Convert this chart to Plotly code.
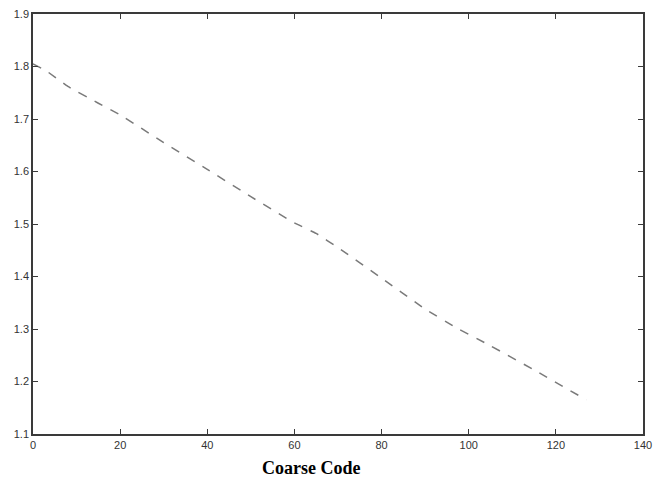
import plotly.graph_objects as go

# Data
coarse_code = [0, 3, 8, 15, 20, 30, 40, 50, 60, 65, 70, 80, 90, 97, 105, 115, 127]
values = [1.805, 1.792, 1.762, 1.730, 1.708, 1.655, 1.604, 1.552, 1.502, 1.482,
          1.455, 1.397, 1.338, 1.303, 1.268, 1.222, 1.165]

x_ticks = [0, 20, 40, 60, 80, 100, 120, 140]
y_ticks = [1.1, 1.2, 1.3, 1.4, 1.5, 1.6, 1.7, 1.8, 1.9]

fig = go.Figure()
fig.add_trace(go.Scatter(
    x=coarse_code, y=values, mode="lines",
    line=dict(color="#7a7a7a", width=1.5, dash="dash", shape="spline", smoothing=0.3),
    showlegend=False,
))

axis_common = dict(
    showline=True, linecolor="#3a3a3a", linewidth=1.5, mirror="ticks",
    ticks="inside", ticklen=5, tickcolor="#3a3a3a", tickwidth=1.2,
    showgrid=False, zeroline=False, automargin=False, ticklabeloverflow="allow",
    tickfont=dict(family="Liberation Sans, Arial, sans-serif", size=11, color="#333333"),
)

fig.update_layout(
    width=653, height=479,
    margin=dict(l=33, r=10, t=14, b=45),
    paper_bgcolor="white", plot_bgcolor="white",
    xaxis=dict(range=[0, 140], tickvals=x_ticks, ticktext=[str(v) for v in x_ticks], **axis_common),
    yaxis=dict(range=[1.1, 1.9], tickvals=y_ticks, ticktext=[f"{v:.1f}" for v in y_ticks], **axis_common),
    annotations=[dict(
        text="<b>Coarse Code</b>", xref="paper", yref="paper",
        x=0.456, y=0, yshift=-34, xanchor="center", yanchor="middle", showarrow=False,
        font=dict(family="Liberation Serif, Times New Roman, serif", size=18, color="black"),
    )],
)

fig.write_html(
    "out.html",
    config={"displayModeBar": False},
    post_script="document.body.style.margin='0';document.body.style.overflow='hidden';",
)
